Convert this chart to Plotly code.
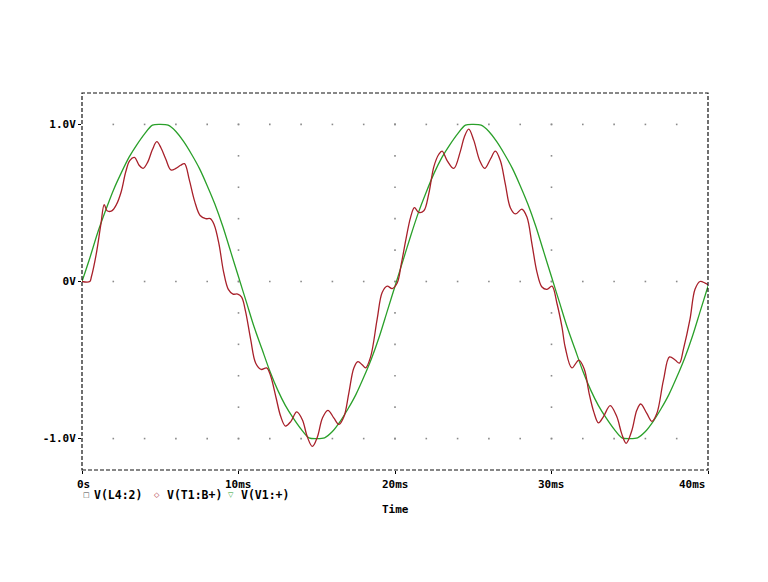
import plotly.graph_objects as go

# ---------------- data ----------------
t_green = [0.0, 0.5, 1.0, 1.5, 2.0, 2.5, 3.0, 3.5, 4.0, 4.5, 5.0, 5.5, 6.0, 6.5, 7.0, 7.5,
           8.0, 8.5, 9.0, 9.5, 10.0, 10.5, 11.0, 11.5, 12.0, 12.5, 13.0, 13.5, 14.0, 14.5,
           15.0, 15.5, 16.0, 16.5, 17.0, 17.5, 18.0, 18.5, 19.0, 19.5, 20.0, 20.5, 21.0,
           21.5, 22.0, 22.5, 23.0, 23.5, 24.0, 24.5, 25.0, 25.5, 26.0, 26.5, 27.0, 27.5,
           28.0, 28.5, 29.0, 29.5, 30.0, 30.5, 31.0, 31.5, 32.0, 32.5, 33.0, 33.5, 34.0,
           34.5, 35.0, 35.5, 36.0, 36.5, 37.0, 37.5, 38.0, 38.5, 39.0, 39.5, 40.0]
v_green = [0.00, 0.15, 0.31, 0.45, 0.58, 0.69, 0.79, 0.87, 0.94, 0.995, 1.00, 0.995, 0.955,
           0.89, 0.81, 0.72, 0.61, 0.49, 0.35, 0.19, 0.03, -0.13, -0.29, -0.43, -0.57, -0.69,
           -0.79, -0.87, -0.94, -0.995, -1.00, -0.995, -0.955, -0.89, -0.81, -0.72, -0.61,
           -0.49, -0.35, -0.19, -0.03, 0.13, 0.29, 0.44, 0.57, 0.69, 0.79, 0.87, 0.94, 0.995,
           1.00, 0.995, 0.955, 0.89, 0.81, 0.72, 0.61, 0.49, 0.35, 0.19, 0.03, -0.13, -0.29,
           -0.43, -0.57, -0.69, -0.79, -0.87, -0.94, -0.995, -1.00, -0.995, -0.955, -0.89,
           -0.81, -0.72, -0.61, -0.49, -0.35, -0.19, -0.03]

t_red = [0.0, 0.5, 0.6, 0.9, 1.2, 1.42, 1.6, 1.9, 2.2, 2.5, 2.8, 3.05, 3.35, 3.65, 3.9, 4.2,
         4.5, 4.78, 5.05, 5.35, 5.68, 6.0, 6.3, 6.55, 6.85, 7.2, 7.55, 7.9, 8.2, 8.45, 8.75,
         9.05, 9.35, 9.65, 9.95, 10.2, 10.45, 10.78, 11.1, 11.45, 11.8, 12.05, 12.4, 12.7,
         13.0, 13.35, 13.72, 14.08, 14.4, 14.72, 15.04, 15.36, 15.71, 16.1, 16.42, 16.74,
         17.05, 17.37, 17.63, 17.9, 18.12, 18.44, 18.86, 19.18, 19.5, 19.82, 20.14, 20.4,
         20.7, 21.0, 21.24, 21.52, 21.84, 22.16, 22.48, 22.8, 23.01, 23.33, 23.76, 24.18,
         24.43, 24.71, 25.03, 25.41, 25.73, 26.1, 26.41, 26.73, 27.05, 27.37, 27.69, 28.11,
         28.43, 28.75, 29.07, 29.39, 29.71, 30.03, 30.35, 30.67, 30.88, 31.3, 31.75, 32.1,
         32.4, 32.7, 33.0, 33.32, 33.75, 34.17, 34.49, 34.77, 35.13, 35.45, 35.7, 36.09,
         36.41, 36.73, 37.15, 37.54, 37.9, 38.17, 38.43, 38.85, 39.17, 39.49, 39.81, 40.0]
v_red = [0.0, 0.0, 0.03, 0.17, 0.36, 0.49, 0.45, 0.45, 0.49, 0.57, 0.70, 0.77, 0.79, 0.74,
         0.72, 0.76, 0.84, 0.89, 0.85, 0.78, 0.71, 0.72, 0.74, 0.75, 0.65, 0.51, 0.42, 0.40,
         0.40, 0.36, 0.24, 0.06, -0.05, -0.08, -0.08, -0.10, -0.19, -0.37, -0.52, -0.56,
         -0.55, -0.60, -0.74, -0.86, -0.92, -0.89, -0.83, -0.88, -0.99, -1.05, -0.99, -0.87,
         -0.82, -0.87, -0.91, -0.86, -0.71, -0.55, -0.51, -0.53, -0.55, -0.48, -0.24, -0.07,
         -0.03, -0.045, -0.01, 0.11, 0.27, 0.41, 0.47, 0.44, 0.45, 0.56, 0.73, 0.81, 0.83,
         0.77, 0.72, 0.83, 0.92, 0.97, 0.90, 0.77, 0.72, 0.78, 0.83, 0.77, 0.62, 0.47, 0.43,
         0.46, 0.41, 0.24, 0.06, -0.035, -0.05, -0.03, -0.14, -0.29, -0.42, -0.55, -0.50,
         -0.56, -0.71, -0.83, -0.90, -0.86, -0.79, -0.86, -0.97, -1.03, -0.95, -0.82, -0.78,
         -0.84, -0.89, -0.84, -0.63, -0.48, -0.50, -0.52, -0.43, -0.24, -0.05, 0.0, -0.01,
         -0.02]

x_tick_vals = [0, 10, 20, 30, 40]
x_tick_text = ["0s", "10ms", "20ms", "30ms", "40ms"]
y_tick_vals = [-1.0, 0.0, 1.0]
y_tick_text = ["-1.0V", "0V", "1.0V"]
legend_names = ["V(L4:2)", "V(T1:B+)", "V(V1:+)"]
x_title = "Time"

# ---------------- styling ----------------
# the page body has an 8px margin, so the figure is drawn 8px in from the window corner
OFF = 8
W, H = 760, 574
ML, MR, MT, MB = 74, 60, 85, 112
PW, PH = W - ML - MR, H - MT - MB
FONT = "DejaVu Sans Mono"
RED = "#a8202a"
GREEN = "#2aa02a"
GRID = "#8a8a8a"


def px_x(p):
    # window pixel -> paper coordinate
    return (p - OFF - ML) / PW


def px_y(p):
    return (H - MB - (p - OFF)) / PH


# grid dots along the major tick lines
gx, gy = [], []
for yv in y_tick_vals:
    for k in range(1, 20):
        gx.append(2 * k)
        gy.append(yv)
for xv in x_tick_vals[1:-1]:
    for k in range(-5, 6):
        gx.append(xv)
        gy.append(round(0.2 * k, 2))

fig = go.Figure()
fig.add_trace(go.Scatter(x=gx, y=gy, mode="markers", hoverinfo="skip",
                         marker=dict(size=1.6, color=GRID, symbol="square",
                                     line=dict(width=0)), showlegend=False))
fig.add_trace(go.Scatter(x=t_green, y=v_green, mode="lines", name=legend_names[2],
                         line=dict(color=GREEN, width=1.3, shape="spline", smoothing=0.8),
                         showlegend=False))
fig.add_trace(go.Scatter(x=t_red, y=v_red, mode="lines", name=legend_names[1],
                         line=dict(color=RED, width=1.3, shape="spline", smoothing=1.0),
                         showlegend=False))

fig.update_layout(
    width=W, height=H,
    margin=dict(l=ML, r=MR, t=MT, b=MB),
    paper_bgcolor="white", plot_bgcolor="white",
    showlegend=False,
    font=dict(family=FONT, color="black", size=11),
    xaxis=dict(range=[0, 40], showgrid=False, zeroline=False, showline=False,
               tickvals=x_tick_vals, showticklabels=False,
               ticks="outside", ticklen=3, tickcolor="black", fixedrange=True),
    yaxis=dict(range=[-1.2, 1.2], showgrid=False, zeroline=False, showline=False,
               tickvals=y_tick_vals, ticktext=y_tick_text,
               ticks="outside", ticklen=3, tickcolor="black",
               tickfont=dict(family=FONT, size=11, color="black", weight="bold"),
               fixedrange=True),
)

# dashed frame
fig.add_shape(type="rect", xref="paper", yref="paper", x0=0, y0=0, x1=1, y1=1,
              line=dict(color="#111111", width=1.2, dash="4px,2px"), layer="above")

# x tick labels
for i, (xv, lab) in enumerate(zip(x_tick_vals, x_tick_text)):
    anchor = "right" if i == len(x_tick_vals) - 1 else "center"
    xpos = xv + (0.1 if i == 0 else 0.0)
    fig.add_annotation(x=xpos, xref="x", y=px_y(484), yref="paper", text=lab,
                       showarrow=False, xanchor=anchor, yanchor="middle",
                       font=dict(family=FONT, size=11, color="black", weight="bold"))

# legend row
sym = ["\u25a1", "\u25c7", "\u25bd"]
sym_col = ["#444444", RED, GREEN]
sym_px = [86, 157, 231]
txt_px = [92, 165, 239]
for s, c, sp, tp, name in zip(sym, sym_col, sym_px, txt_px, legend_names):
    fig.add_annotation(x=px_x(sp), xref="paper", y=px_y(495), yref="paper", text=s,
                       showarrow=False, xanchor="center", yanchor="middle",
                       font=dict(family="DejaVu Sans", size=7, color=c))
    fig.add_annotation(x=px_x(tp), xref="paper", y=px_y(495), yref="paper", text=name,
                       showarrow=False, xanchor="left", yanchor="middle",
                       font=dict(family=FONT, size=11.5, color="black", weight="bold"))

# axis title
fig.add_annotation(x=0.5, xref="paper", y=px_y(510), yref="paper", text=x_title,
                   showarrow=False, xanchor="center", yanchor="middle",
                   font=dict(family=FONT, size=11, color="black", weight="bold"))

fig.write_html("out.html")
